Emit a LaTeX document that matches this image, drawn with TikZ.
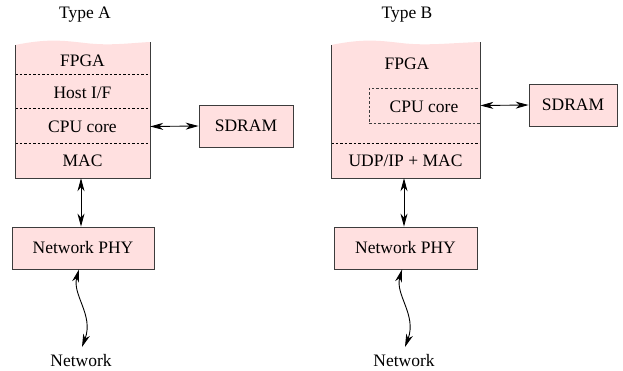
\documentclass[tikz,border=0pt]{standalone}
\usepackage{fontspec}
\setmainfont{Liberation Serif}
\usetikzlibrary{arrows.meta}
\definecolor{boxfill}{RGB}{255,224,224}
\definecolor{boxline}{RGB}{60,60,60}
\begin{document}
\begin{tikzpicture}[x=1pt,y=-1pt,
  lbl/.style={font=\fontsize{17.5}{20}\selectfont, inner sep=0pt},
  box/.style={lbl, draw=boxline, fill=boxfill, line width=0.8pt},
  edge/.style={draw=boxline, line width=0.8pt},
  sep/.style={line width=0.7pt, dash pattern=on 2.5pt off 2pt},
  dbl/.style={line width=0.9pt, {Stealth[length=13pt,width=7pt,inset=4pt]}-{Stealth[length=13pt,width=7pt,inset=4pt]}}]
\useasboundingbox (0,0) rectangle (623,370);

% ---------- Type A ----------
\node[lbl] (typeA) at (85,15) {Type A};
\fill[boxfill] (15,178) -- (15,45) .. controls (45,39) and (60,40) .. (85,43)
  .. controls (110,46) and (130,43) .. (150,42) -- (150,178) -- cycle;
\draw[sep] (15,74) -- (150,74);
\draw[sep] (15,108.5) -- (150,108.5);
\draw[sep] (15,143.5) -- (150,143.5);
\draw[edge] (15,45) -- (15,178) -- (150,178) -- (150,42);
\node[lbl] (fpgaA) at (82.5,61) {FPGA};
\node[lbl] (hostA) at (82.5,93) {Host I/F};
\node[lbl, minimum width=135pt, minimum height=34pt] (cpuA) at (82.5,126.5) {CPU core};
\node[lbl, minimum width=135pt, minimum height=34pt] (macA) at (82.5,161) {MAC};
\node[box, minimum width=94pt, minimum height=42pt] (sdramA) at (246,126) {SDRAM};
\node[box, minimum width=142pt, minimum height=42pt] (phyA) at (83,248) {Network PHY};
\node[lbl] (netA) at (81,361) {Network};
\draw[dbl] (cpuA.east) -- (sdramA.west);
\draw[dbl] (macA.south -| 81,0) -- (phyA.north -| 81,0);
\draw[dbl] (phyA.south -| 79,0) .. controls (72,295) and (94,315) .. (82,347);

% ---------- Type B ----------
\node[lbl] (typeB) at (407,15) {Type B};
\fill[boxfill] (331,178) -- (331,45) .. controls (361,39) and (376,40) .. (401,43)
  .. controls (426,46) and (450,43) .. (480,42) -- (480,178) -- cycle;
\draw[sep] (331,143.5) -- (480,143.5);
\node[lbl, draw=boxline, sep, minimum width=111pt, minimum height=35pt] (cpuB) at (424.5,105.5) {};
\node[lbl] at (424,107) {CPU core};
\draw[edge] (331,45) -- (331,178) -- (480,178) -- (480,42);
\node[lbl] (fpgaB) at (407,64) {FPGA};
\node[lbl, minimum width=149pt, minimum height=34pt] (udpB) at (405.5,161) {UDP/IP + MAC};
\node[box, minimum width=88pt, minimum height=42pt] (sdramB) at (573,105) {SDRAM};
\node[box, minimum width=143pt, minimum height=42pt] (phyB) at (405.5,248) {Network PHY};
\node[lbl] (netB) at (404,361) {Network};
\draw[dbl] (cpuB.east) -- (sdramB.west);
\draw[dbl] (udpB.south -| 404,0) -- (phyB.north -| 404,0);
\draw[dbl] (phyB.south -| 402,0) .. controls (395,295) and (417,315) .. (405,347);
\end{tikzpicture}
\end{document}
